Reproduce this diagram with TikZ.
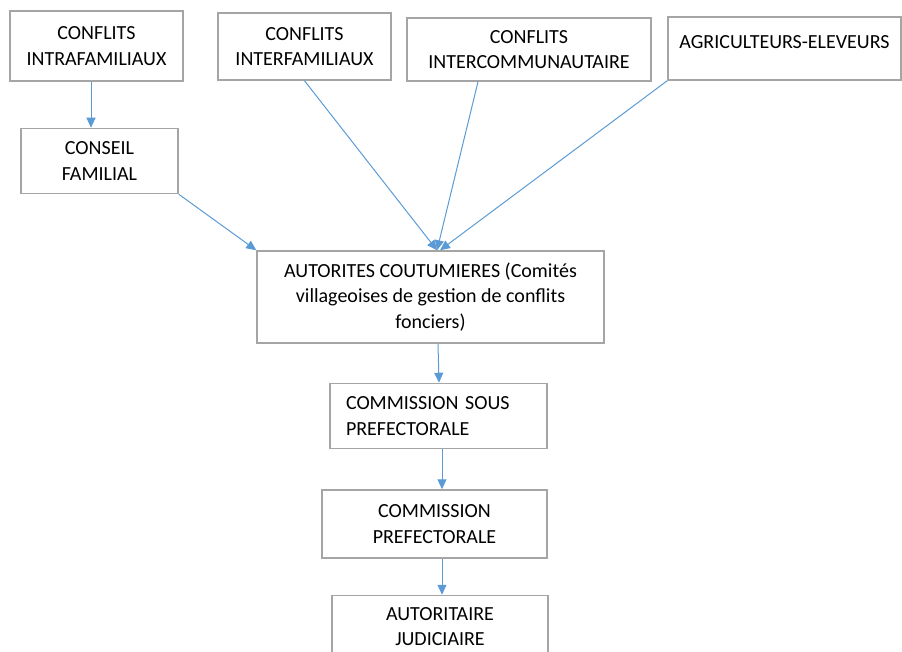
\documentclass[tikz,border=0pt]{standalone}
\usepackage{fontspec}
\setmainfont{Carlito}
\usepackage{tikz}
\usetikzlibrary{positioning,arrows.meta}

\definecolor{bordo}{HTML}{A5A5A5}
\definecolor{freccia}{HTML}{5B9BD5}

\begin{document}
\begin{tikzpicture}[x=1pt, y=-1pt,
    box/.style={draw=bordo, line width=1.5pt, align=center, inner sep=0pt, font=\fontsize{20}{25.5}\selectfont},
    fr/.style={draw=freccia, line width=1pt, -{Triangle[length=10pt,width=9pt]}}]

    \clip (0,0) rectangle (902,652);

    % riga in alto
    \node[box, minimum width=173pt, minimum height=70pt] (intra) at (96.5,46) {CONFLITS\\INTRAFAMILIAUX};
    \node[box, minimum width=173pt, minimum height=67pt] (inter) at (304.5,46.5) {CONFLITS\\INTERFAMILIAUX};
    \node[box, minimum width=244pt, minimum height=63pt] (comm) at (529,49.5) {CONFLITS\\INTERCOMMUNAUTAIRE};
    \node[box, minimum width=233pt, minimum height=63pt, text depth=13pt] (agri) at (784.5,48.5) {AGRICULTEURS-ELEVEURS};

    \node[box, minimum width=157pt, minimum height=65pt] (cons) [below=46pt of intra, xshift=3pt] {CONSEIL\\FAMILIAL};

    \node[box, minimum width=347pt, minimum height=92pt] (aut) at (430.5,297) {AUTORITES COUTUMIERES (Comités\\villageoises de gestion de conflits\\fonciers)};
    \node[box, minimum width=217pt, minimum height=65pt, text width=185pt, align=left, inner xsep=16pt] (csp) [below=39pt of aut, xshift=8pt] {COMMISSION SOUS\\PREFECTORALE};
    \node[box, minimum width=225pt, minimum height=68pt] (cp) [below=40pt of csp, xshift=-4pt] {COMMISSION\\PREFECTORALE};
    \node[box, minimum width=216pt, minimum height=62pt] (jud) [below=36pt of cp, xshift=5.5pt] {AUTORITAIRE\\JUDICIAIRE};

    % frecce
    \draw[fr] ([xshift=-5.5pt]intra.south) -- ([xshift=-8.5pt]cons.north);
    \draw[fr] (cons.south east) -- (aut.north west);
    \draw[fr] (inter.south) -- ([xshift=6.5pt]aut.north);
    \draw[fr] ([xshift=-51pt]comm.south) -- ([xshift=6.5pt]aut.north);
    \draw[fr] (agri.south west) -- ([xshift=9.5pt]aut.north);
    \draw[fr] ([xshift=7.5pt]aut.south) -- ([xshift=0.5pt]csp.north);
    \draw[fr] ([xshift=3.5pt]csp.south) -- ([xshift=7.5pt]cp.north);
    \draw[fr] ([xshift=7.5pt]cp.south) -- ([xshift=2pt]jud.north);

\end{tikzpicture}
\end{document}
